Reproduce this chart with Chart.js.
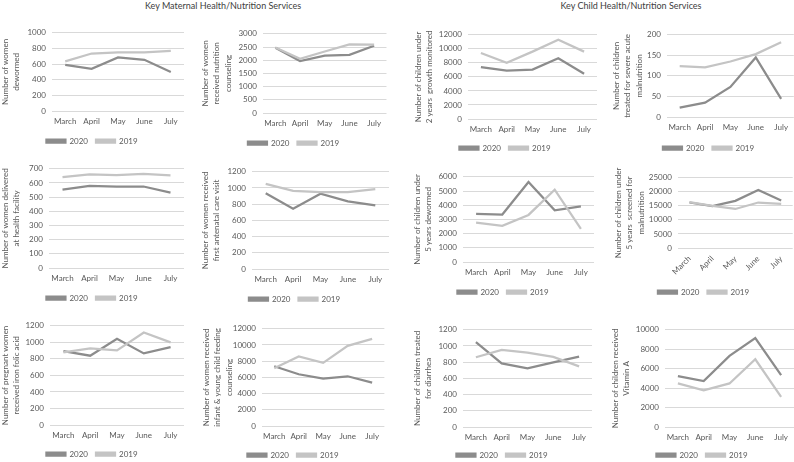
<!DOCTYPE html>
<html>
<head>
<meta charset="utf-8">
<script src="https://cdn.jsdelivr.net/npm/chart.js@4.4.0/dist/chart.umd.min.js"></script>
<style>
  body { margin: 0; background: #fff; width: 794px; height: 462px; position: relative; overflow: hidden; font-family: Lato, sans-serif; }
  .hdr { position: absolute; top: 0; font-size: 9px; color: #404040; text-align: center; white-space: nowrap; }
  canvas { position: absolute; }
</style>
</head>
<body>
<div class="hdr" style="left:123px;width:200px">Key Maternal Health/Nutrition Services</div>
<div class="hdr" style="left:531px;width:200px">Key Child Health/Nutrition Services</div>
<script>
const months = ['March', 'April', 'May', 'June', 'July'];

const womenDewormed2020 = [590, 540, 685, 655, 500];
const womenDewormed2019 = [635, 735, 750, 750, 770];
const nutritionCounseling2020 = [2470, 1970, 2170, 2200, 2550];
const nutritionCounseling2019 = [2480, 2050, 2330, 2600, 2590];
const growthMonitored2020 = [7400, 6900, 7050, 8650, 6450];
const growthMonitored2019 = [9400, 8000, 9600, 11300, 9600];
const samTreated2020 = [23, 35, 73, 145, 44];
const samTreated2019 = [124, 121, 135, 153, 182];
const facilityDelivery2020 = [553, 580, 575, 575, 532];
const facilityDelivery2019 = [641, 660, 655, 664, 653];
const firstAnc2020 = [935, 745, 930, 836, 786];
const firstAnc2019 = [1050, 964, 948, 948, 985];
const under5Dewormed2020 = [3385, 3340, 5630, 3640, 3920];
const under5Dewormed2019 = [2780, 2545, 3315, 5090, 2335];
const under5Screened2020 = [16200, 14900, 16800, 20700, 16900];
const under5Screened2019 = [16300, 15000, 13900, 16200, 15700];
const ironFolic2020 = [894, 838, 1043, 866, 942];
const ironFolic2019 = [878, 926, 902, 1119, 999];
const iycfCounseling2020 = [7380, 6390, 5860, 6140, 5360];
const iycfCounseling2019 = [7130, 8580, 7790, 9900, 10760];
const diarrheaTreated2020 = [1047, 786, 724, 799, 869];
const diarrheaTreated2019 = [861, 952, 919, 865, 749];
const vitaminA2020 = [5240, 4720, 7310, 9140, 5345];
const vitaminA2019 = [4480, 3760, 4480, 6970, 3100];

const DARK = '#8c8c8c';
const LIGHT = '#c4c4c4';
const TEXT = '#595959';
const GRID = '#d9d9d9';

// x,w = canvas left/width; pl = plot left; top/bottom = plot top/bottom; lc = legend centre y
const panels = [
  { x: 0, w: 184, pl: 52, top: 33, bottom: 111, lc: 142, max: 1000, step: 200,
    title: ['Number of women', 'dewormed'], a: womenDewormed2020, b: womenDewormed2019 },
  { x: 200, w: 187, pl: 263, top: 34, bottom: 113, lc: 144, max: 3000, step: 500,
    title: ['Number of women', 'received nutrition', 'counseling'], a: nutritionCounseling2020, b: nutritionCounseling2019 },
  { x: 413, w: 184, pl: 468, top: 35, bottom: 119, lc: 149, max: 12000, step: 2000,
    title: ['Number of children under', '2 years  growth monitored'], a: growthMonitored2020, b: growthMonitored2019 },
  { x: 611, w: 183, pl: 667, top: 35, bottom: 117, lc: 149, max: 200, step: 50, shift: 6,
    title: ['Number of children', 'treated for severe acute', 'malnutrition'], a: samTreated2020, b: samTreated2019 },
  { x: 0, w: 184, pl: 49, top: 169, bottom: 268, lc: 299, max: 700, step: 100,
    title: ['Number of women delivered', 'at health facility'], a: facilityDelivery2020, b: facilityDelivery2019 },
  { x: 200, w: 189, pl: 252, top: 172, bottom: 269, lc: 300, max: 1200, step: 200,
    title: ['Number of women received', 'first antenatal care visit'], a: firstAnc2020, b: firstAnc2019 },
  { x: 412, w: 182, pl: 463, top: 177, bottom: 262, lc: 293, max: 6000, step: 1000,
    title: ['Number of children under', '5 years dewormed'], a: under5Dewormed2020, b: under5Dewormed2019 },
  { x: 613, w: 181, pl: 678, top: 178, bottom: 248, lc: 293, max: 25000, step: 5000, rot: 45,
    title: ['Number of children under', '5 years  screened for', 'malnutrition'], a: under5Screened2020, b: under5Screened2019 },
  { x: 0, w: 184, pl: 50, top: 326, bottom: 425, lc: 455, max: 1200, step: 200,
    title: ['Number of pregnant women', 'received iron folic acid'], a: ironFolic2020, b: ironFolic2019 },
  { x: 201, w: 184, pl: 262, top: 329, bottom: 426, lc: 456, max: 12000, step: 2000,
    title: ['Number of women received', 'infant & young child feeding', 'counseling'], a: iycfCounseling2020, b: iycfCounseling2019 },
  { x: 412, w: 180, pl: 463, top: 330, bottom: 427, lc: 456, max: 1200, step: 200,
    title: ['Number of children treated', 'for diarrhea'], a: diarrheaTreated2020, b: diarrheaTreated2019 },
  { x: 610, w: 184, pl: 665, top: 330, bottom: 427, lc: 456, max: 10000, step: 2000,
    title: ['Number of children received', 'Vitamin A'], a: vitaminA2020, b: vitaminA2019 }
];

const font = { family: 'Lato, sans-serif', size: 8 };
const LEGEND_H = 26, LEGEND_MID = 13, AREA_TOP = 11;

// nudges the legend sideways when the panel frame is cut by the page edge
const legendShift = {
  id: 'legendShift',
  afterLayout(chart, args, opts) {
    if (opts.dx) { chart.legend.left += opts.dx; chart.legend.right += opts.dx; }
  }
};

panels.forEach(p => {
  const cTop = p.top - AREA_TOP;
  const cH = Math.round(p.lc - LEGEND_MID + LEGEND_H - cTop);
  const xH = (cH - LEGEND_H) - (p.bottom - cTop);
  const yW = p.pl - p.x;

  const cv = document.createElement('canvas');
  cv.width = p.w;
  cv.height = cH;
  cv.style.left = p.x + 'px';
  cv.style.top = cTop + 'px';
  document.body.appendChild(cv);

  new Chart(cv, {
    type: 'line',
    data: {
      labels: months,
      datasets: [
        { label: '2020', data: p.a, borderColor: DARK, backgroundColor: DARK, borderWidth: 2.25, pointRadius: 0, tension: 0, order: 1 },
        { label: '2019', data: p.b, borderColor: LIGHT, backgroundColor: LIGHT, borderWidth: 2.25, pointRadius: 0, tension: 0, order: 0 }
      ]
    },
    plugins: [legendShift],
    options: {
      responsive: false,
      animation: false,
      layout: { padding: 0 },
      plugins: {
        legendShift: { dx: p.shift || 0 },
        legend: {
          position: 'bottom',
          labels: {
            boxWidth: 19, boxHeight: 3, padding: 8, color: TEXT, font,
            sort: (a, b) => a.datasetIndex - b.datasetIndex
          }
        },
        tooltip: { enabled: false }
      },
      scales: {
        x: {
          offset: true,
          grid: { display: false, drawTicks: false },
          border: { display: false },
          ticks: { color: TEXT, font, padding: 6, autoSkip: false, maxRotation: p.rot || 0, minRotation: p.rot || 0 },
          afterFit: s => { s.height = xH; }
        },
        y: {
          min: 0,
          max: p.max,
          grid: { color: GRID, drawTicks: false },
          border: { display: false },
          ticks: { stepSize: p.step, color: TEXT, font, padding: 6, callback: v => String(v) },
          title: { display: true, text: p.title, color: TEXT, font: { family: 'Lato, sans-serif', size: 8, lineHeight: 1.4 }, padding: { top: 0, bottom: 2 } },
          afterFit: s => { s.width = yW; }
        }
      }
    }
  });
});
</script>
</body>
</html>
